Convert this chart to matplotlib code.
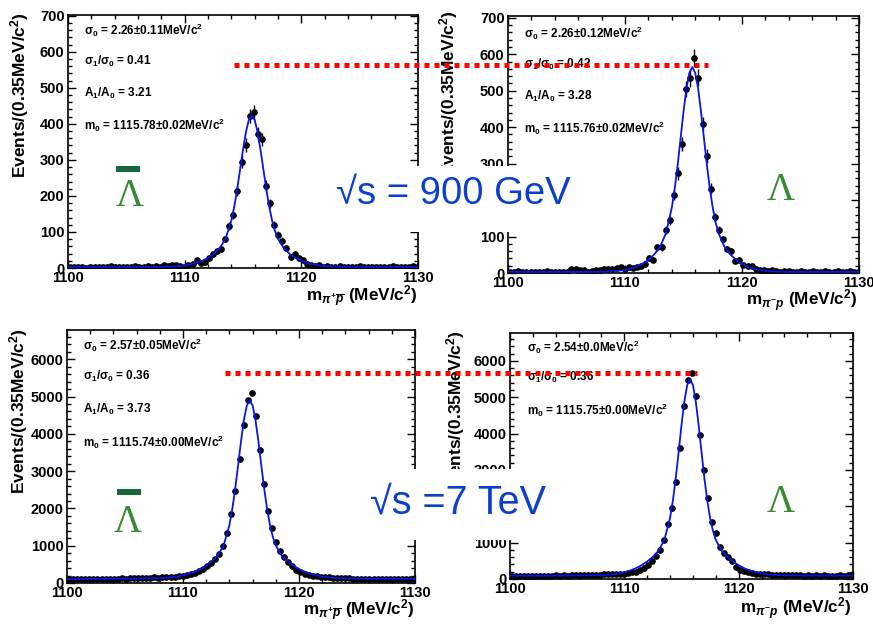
import numpy as np
import matplotlib
matplotlib.use("Agg")
import matplotlib.pyplot as plt
from matplotlib.ticker import MultipleLocator
from matplotlib.patches import Rectangle
from matplotlib.lines import Line2D

plt.rcParams["font.family"] = ["Liberation Sans", "DejaVu Sans"]
plt.rcParams["font.weight"] = "bold"
plt.rcParams["mathtext.fontset"] = "custom"
plt.rcParams["mathtext.rm"] = "Liberation Sans:bold"
plt.rcParams["mathtext.it"] = "Liberation Sans:italic:bold"
plt.rcParams["mathtext.bf"] = "Liberation Sans:bold"

### data
bin_width = 0.35
bin_centers = 1100 + bin_width / 2 + bin_width * np.arange(86)

# anti-Lambda, 900 GeV
alam_900 = [3, 2, 4, 3, 1, 3, 2, 4, 2, 3, 5, 2, 3, 4, 2, 3, 5, 3, 4, 6, 3, 5, 4, 7, 5, 8, 9, 6,
            4, 8, 10, 23, 13, 17, 27, 38, 47, 54, 80, 116, 147, 214, 295, 341, 422, 432, 372, 357,
            228, 179, 119, 92, 76, 55, 30, 38, 27, 22,
            12, 8, 6, 7, 4, 5, 3, 4, 5, 3, 2, 4, 3, 5, 2, 3, 4, 2, 3, 4, 2, 5, 3, 2, 4, 3, 5, 2]
# Lambda, 900 GeV
lam_900 = [4, 3, 5, 3, 4, 2, 3, 4, 3, 5, 3, 4, 3, 2, 4, 12, 10, 9, 7, 4, 6, 9, 8, 10, 11, 12, 15, 16,
           12, 16, 15, 17, 18, 25, 42, 37, 70, 70, 119, 145, 214, 273, 354, 504, 534, 589, 536, 409,
           321, 231, 153, 119, 92, 66, 60, 32, 37, 21,
           18, 20, 12, 9, 8, 6, 7, 5, 4, 6, 5, 3, 4, 5, 3, 4, 6, 3, 4, 5, 3, 4, 6, 4, 3, 5, 4, 3]
# anti-Lambda, 7 TeV
alam_7 = [100, 105, 98, 110, 104, 108, 112, 106, 115, 110, 118, 114, 120, 125, 118, 128, 132, 126,
          138, 135, 142, 150, 146, 158, 165, 160, 172, 180,
          190, 210, 240, 270, 311, 375, 464, 535, 651, 784, 1000, 1339, 1848, 2473, 3321, 4240, 4910,
          5106, 4490, 3571, 2652, 1918, 1473, 1088, 847, 696, 552, 445, 356, 294,
          250, 225, 200, 185, 170, 160, 150, 142, 135, 130, 125, 122, 118, 115, 112, 110, 108, 112,
          106, 104, 108, 102, 105, 100, 104, 110, 106, 112]
# Lambda, 7 TeV
lam_7 = [85, 90, 82, 88, 92, 86, 90, 95, 88, 94, 92, 98, 96, 100, 95, 104, 102, 108, 105, 112, 115,
         118, 122, 128, 132, 138, 142, 148,
         150, 165, 185, 205, 236, 302, 392, 502, 620, 804, 1060, 1500, 1948, 2670, 3612, 4756, 5470,
         5670, 5040, 3960, 2990, 2240, 1580, 1262, 867, 713, 604, 483, 329, 255, 209,
         180, 165, 150, 140, 132, 125, 120, 115, 110, 108, 104, 100, 102, 98, 96, 100, 95, 98, 94,
         97, 92, 96, 95, 98, 94, 100, 102]

# fitted curves (blue), sampled by eye
fit_x = [1100, 1102, 1104, 1106, 1108, 1109, 1110, 1110.5, 1111, 1111.5, 1112, 1112.5, 1113, 1113.5,
         1114, 1114.25, 1114.5, 1114.75, 1115, 1115.25, 1115.5, 1115.75, 1116, 1116.25, 1116.5,
         1116.75, 1117, 1117.25, 1117.5, 1117.75, 1118, 1118.5, 1119, 1119.5, 1120, 1120.5, 1121,
         1122, 1123, 1124, 1126, 1128, 1130]
fit_alam_900 = [3, 3, 3, 3, 3, 4, 7, 10, 14, 20, 28, 39, 55, 81, 131, 170, 218, 273, 328, 377, 411,
                423, 411, 377, 328, 273, 218, 170, 131, 102, 81, 55, 39, 28, 20, 14, 10, 5, 4, 3, 3, 3, 3]
fit_lam_900 = [3, 3, 3, 3, 3, 5, 8, 12, 17, 25, 36, 51, 72, 109, 179, 232, 296, 369, 442, 506, 549,
               565, 549, 506, 442, 369, 296, 232, 179, 138, 109, 72, 51, 36, 25, 17, 12, 6, 4, 3, 3, 3, 3]
fit_alam_7 = [105, 110, 115, 121, 131, 152, 203, 245, 303, 377, 469, 582, 735, 1004, 1551, 1984, 2530,
              3158, 3802, 4369, 4760, 4900, 4760, 4369, 3802, 3158, 2530, 1984, 1551, 1230, 1004, 735,
              582, 469, 377, 303, 245, 170, 136, 124, 118, 115, 112]
fit_lam_7 = [90, 92, 94, 97, 106, 129, 184, 231, 295, 378, 482, 610, 780, 1076, 1681, 2166, 2782, 3494,
             4231, 4882, 5333, 5495, 5333, 4882, 4231, 3494, 2782, 2166, 1681, 1326, 1076, 780, 610,
             482, 378, 295, 231, 151, 115, 101, 96, 94, 92]

fit_text_alam_900 = ["σ$_0$ = 2.26±0.11MeV/c$^2$", "σ$_1$/σ$_0$ = 0.41", "A$_1$/A$_0$ = 3.21",
                     "m$_0$ = 1115.78±0.02MeV/c$^2$"]
fit_text_lam_900 = ["σ$_0$ = 2.26±0.12MeV/c$^2$", "σ$_1$/σ$_0$ = 0.42", "A$_1$/A$_0$ = 3.28",
                    "m$_0$ = 1115.76±0.02MeV/c$^2$"]
fit_text_alam_7 = ["σ$_0$ = 2.57±0.05MeV/c$^2$", "σ$_1$/σ$_0$ = 0.36", "A$_1$/A$_0$ = 3.73",
                   "m$_0$ = 1115.74±0.00MeV/c$^2$"]
fit_text_lam_7 = ["σ$_0$ = 2.54±0.0MeV/c$^2$", "σ$_1$/σ$_0$ = 0.36", "m$_0$ = 1115.75±0.00MeV/c$^2$"]

xlabel_alam = r"m$_{\pi^{+}\overline{p}}$ (MeV/c$^2$)"
xlabel_lam = r"m$_{\pi^{-}p}$ (MeV/c$^2$)"
ylabel = "Events/(0.35MeV/c$^2$)"
###

W, H = 873, 625
fig = plt.figure(figsize=(W / 100, H / 100), dpi=100)


def box(x0, y0, x1, y1):
    # pixel box with top-left origin -> figure fraction rect
    return [x0 / W, 1 - y1 / H, (x1 - x0) / W, (y1 - y0) / H]


def ftext(x, y, s, **kw):
    return fig.text(x / W, 1 - y / H, s, **kw)


panels = [
    dict(box=(68, 15, 418, 268), ymax=702, ymaj=100, ymin=20, counts=alam_900, fit=fit_alam_900,
         err=True, txt=fit_text_alam_900, txt_xy=(84, [30, 61, 93, 125]), xlabel=xlabel_alam,
         xlab_xy=(418, 297), ylab_xy=(20, 12)),
    dict(box=(508, 16, 859, 273), ymax=705, ymaj=100, ymin=20, counts=lam_900, fit=fit_lam_900,
         err=True, txt=fit_text_lam_900, txt_xy=(524, [33, 64, 96, 128]), xlabel=xlabel_lam,
         xlab_xy=(858, 301), ylab_xy=(449, 10)),
    dict(box=(67, 330, 415, 583), ymax=6785, ymaj=1000, ymin=200, counts=alam_7, fit=fit_alam_7,
         err=False, txt=fit_text_alam_7, txt_xy=(83, [345, 376, 409, 442]), xlabel=xlabel_alam,
         xlab_xy=(415, 611), ylab_xy=(19, 328)),
    dict(box=(510, 333, 853, 579), ymax=6765, ymaj=1000, ymin=200, counts=lam_7, fit=fit_lam_7,
         err=False, txt=fit_text_lam_7, txt_xy=(527, [347, 377, 410]), xlabel=xlabel_lam,
         xlab_xy=(852, 609), ylab_xy=(456, 330)),
]

for p in panels:
    ax = fig.add_axes(box(*p["box"]))
    counts = np.array(p["counts"], dtype=float)
    if p["err"]:
        ax.errorbar(bin_centers, counts, yerr=np.sqrt(counts), fmt="o", color="black", ms=3.8,
                    elinewidth=1.0, capsize=0, zorder=2)
    else:
        ax.plot(bin_centers, counts, "o", color="black", ms=3.8, zorder=2)
    ax.plot(fit_x, p["fit"], color="#0a14e6", lw=1.3, zorder=3)
    ax.set_xlim(1100, 1130)
    ax.set_ylim(0, p["ymax"])
    ax.xaxis.set_major_locator(MultipleLocator(10))
    ax.xaxis.set_minor_locator(MultipleLocator(2))
    ax.yaxis.set_major_locator(MultipleLocator(p["ymaj"]))
    ax.yaxis.set_minor_locator(MultipleLocator(p["ymin"]))
    ax.tick_params(which="both", direction="in", top=True, right=True, width=1.0,
                   labelsize=10.5, pad=2.5)
    ax.tick_params(which="major", length=6)
    ax.tick_params(which="minor", length=3)
    for s in ax.spines.values():
        s.set_linewidth(1.2)

    tx, tys = p["txt_xy"]
    for s, ty in zip(p["txt"], tys):
        ftext(tx, ty, s, fontsize=8.5, va="center", ha="left")
    ftext(p["xlab_xy"][0], p["xlab_xy"][1], p["xlabel"], fontsize=12.3, ha="right", va="center")
    ftext(p["ylab_xy"][0], p["ylab_xy"][1], ylabel, fontsize=12.5, rotation=90,
          ha="center", va="top")

# white boxes with the energy labels
for (x0, y0, x1, y1), label, (cx, cy), size in [
    ((332, 166, 582, 232), "√s = 900 GeV", (453, 194), 27.5),
    ((345, 469, 565, 540), "√s =7 TeV", (458, 503), 28.5),
]:
    fig.add_artist(Rectangle((x0 / W, 1 - y1 / H), (x1 - x0) / W, (y1 - y0) / H,
                             transform=fig.transFigure, facecolor="white", edgecolor="none",
                             zorder=10))
    ftext(cx, cy, label, fontsize=size, fontweight="normal", color="#0b3fcc", ha="center",
          va="center", zorder=11)

# red dotted comparison lines
for x0, x1, y in [(234, 708, 64.7), (225, 697, 372.5)]:
    fig.add_artist(Line2D([x0 / W, x1 / W], [1 - y / H, 1 - y / H], transform=fig.transFigure,
                          color="#ff0000", lw=3.6, dashes=(1, 1), dash_capstyle="butt", zorder=12))

# Lambda symbols
for cx, cy, bar in [(130, 197, (116, 166, 140, 172)), (781, 190, None),
                    (128, 522, (117, 489, 141, 495)), (781, 502, None)]:
    ftext(cx, cy, "Λ", fontsize=28, family="Liberation Serif", fontweight="normal",
          color="#3a8a35", ha="center", va="center", zorder=11)
    if bar:
        bx0, by0, bx1, by1 = bar
        fig.add_artist(Rectangle((bx0 / W, 1 - by1 / H), (bx1 - bx0) / W, (by1 - by0) / H,
                                 transform=fig.transFigure, facecolor="#17693a",
                                 edgecolor="none", zorder=11))

fig.savefig("out.png", dpi=100)
